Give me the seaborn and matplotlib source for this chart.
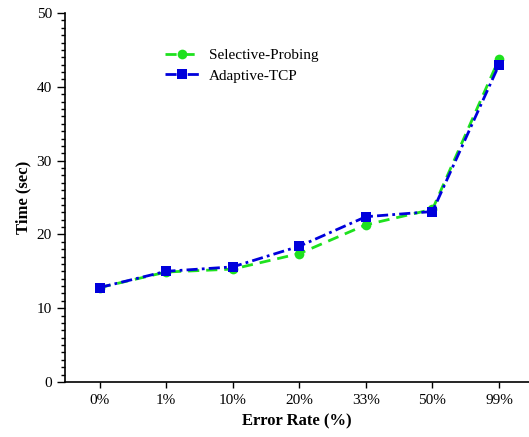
import matplotlib
matplotlib.use("Agg")
import matplotlib.pyplot as plt
import seaborn as sns
from matplotlib.ticker import MultipleLocator

categories = ["0%", "1%", "10%", "20%", "33%", "50%", "99%"]
selective = [12.8, 14.9, 15.3, 17.4, 21.3, 23.4, 43.8]
adaptive = [12.8, 15.0, 15.6, 18.4, 22.4, 23.1, 43.0]

sns.set_style("white")
plt.rcParams['font.family'] = ['Liberation Serif', 'DejaVu Serif']
plt.rcParams.update({"text.color": "black", "axes.labelcolor": "black",
                     "xtick.color": "black", "ytick.color": "black"})

fig = plt.figure(figsize=(5.29, 4.37), dpi=100)
ax = fig.add_axes([0.123, 0.126, 0.877, 0.844])

green = "#1ee11e"
blue = "#0000dc"
sns.lineplot(x=list(range(7)), y=selective, ax=ax, color=green, marker="o",
             markersize=7, markeredgewidth=0, linestyle=(0, (4, 2.5)), linewidth=2,
             label="Selective-Probing")
sns.lineplot(x=list(range(7)), y=adaptive, ax=ax, color=blue, marker="s",
             markersize=7.5, markeredgewidth=0, linestyle=(0, (4, 1.5, 1, 1.5)), linewidth=2,
             label="Adaptive-TCP")

ax.set_xlim(-0.52, 6.45)
ax.set_ylim(0, 50)
ax.set_xticks(range(7))
ax.set_xticklabels(categories, fontsize=11)
ax.yaxis.set_major_locator(MultipleLocator(10))
ax.yaxis.set_minor_locator(MultipleLocator(1))
ax.tick_params(axis="y", which="major", direction="out", length=6, width=1, left=True, labelsize=11)
ax.tick_params(axis="y", which="minor", direction="out", length=3, width=1, left=True)
ax.tick_params(axis="x", which="major", direction="out", length=4, width=1, bottom=True, labelsize=11, pad=5)
for s in ["top", "right"]:
    ax.spines[s].set_visible(False)
for s in ["left", "bottom"]:
    ax.spines[s].set_color("black")
    ax.spines[s].set_linewidth(1.2)
ax.set_xlabel("Error Rate (%)", fontsize=12, fontweight="bold")
ax.set_ylabel("Time (sec)", fontsize=12, fontweight="bold")
leg = ax.legend(loc="upper left", bbox_to_anchor=(0.185, 0.942), frameon=False, fontsize=11,
                handlelength=2.3, handletextpad=0.6, labelspacing=0.45)
fig.savefig("out.png", dpi=100)
